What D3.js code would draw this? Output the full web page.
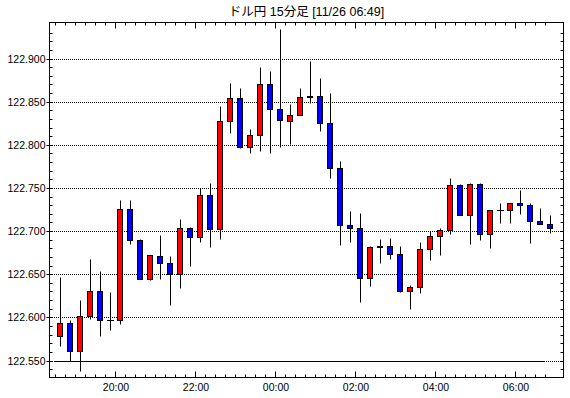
<!DOCTYPE html>
<html>
<head>
<meta charset="utf-8">
<script src="https://cdn.jsdelivr.net/npm/d3@7"></script>
<style>
  body { margin: 0; background: #fff; }
  svg text { font-family: "Liberation Sans", Arial, "Noto Sans CJK JP", sans-serif; fill: #000; }
</style>
</head>
<body>
<script>
// ドル円 15分足, 18:30 - 06:45
let times = ['18:30','18:45','19:00','19:15','19:30','19:45','20:00','20:15','20:30','20:45',
    '21:00','21:15','21:30','21:45','22:00','22:15','22:30','22:45','23:00','23:15',
    '23:30','23:45','00:00','00:15','00:30','00:45','01:00','01:15','01:30','01:45',
    '02:00','02:15','02:30','02:45','03:00','03:15','03:30','03:45','04:00','04:15',
    '04:30','04:45','05:00','05:15','05:30','05:45','06:00','06:15','06:30','06:45'];

let open = [122.578,122.594,122.561,122.601,122.630,122.597,122.597,122.726,122.690,122.645,
    122.671,122.663,122.650,122.703,122.693,122.742,122.702,122.827,122.854,122.798,
    122.811,122.871,122.842,122.827,122.834,122.855,122.857,122.825,122.773,122.707,
    122.704,122.646,122.681,122.683,122.674,122.631,122.635,122.679,122.694,122.701,
    122.753,122.719,122.755,122.697,122.724,122.724,122.733,122.730,122.712,122.708];
let high = [122.647,122.597,122.620,122.668,122.654,122.629,122.736,122.736,122.691,122.672,
    122.695,122.671,122.714,122.705,122.750,122.756,122.845,122.872,122.866,122.818,
    122.890,122.885,122.934,122.847,122.866,122.897,122.877,122.860,122.781,122.723,
    122.721,122.683,122.691,122.692,122.683,122.638,122.687,122.700,122.704,122.761,
    122.755,122.756,122.756,122.724,122.732,122.733,122.748,122.733,122.727,122.719];
let low = [122.567,122.549,122.538,122.598,122.578,122.585,122.592,122.685,122.644,122.643,
    122.645,122.614,122.634,122.660,122.687,122.681,122.691,122.814,122.796,122.791,
    122.793,122.791,122.798,122.801,122.834,122.849,122.816,122.761,122.684,122.687,
    122.618,122.636,122.663,122.668,122.629,122.610,122.628,122.667,122.672,122.697,
    122.719,122.685,122.690,122.680,122.709,122.709,122.720,122.686,122.708,122.698];
let close = [122.594,122.561,122.601,122.630,122.597,122.597,122.726,122.690,122.645,122.672,
    122.663,122.650,122.703,122.693,122.742,122.702,122.827,122.854,122.798,122.811,
    122.871,122.842,122.829,122.835,122.855,122.857,122.825,122.773,122.707,122.704,
    122.646,122.681,122.683,122.674,122.631,122.635,122.679,122.694,122.701,122.753,
    122.719,122.755,122.697,122.724,122.724,122.733,122.730,122.712,122.708,122.704];

let yTicks = [122.550,122.600,122.650,122.700,122.750,122.800,122.850,122.900];
let xLabels = ['20:00','22:00','00:00','02:00','04:00','06:00'];
let refLine = 122.550;
let title = 'ドル円 15分足 [11/26 06:49]';

let W = 570, H = 398;
let frame = {left: 49.5, top: 22.5, right: 563.5, bottom: 377.5};

let svg = d3.select('body').append('svg')
    .attr('width', W)
    .attr('height', H);

let x = d3.scaleBand()
    .domain(times)
    .range([55, 55 + 10 * times.length]);

let y = d3.scaleLinear()
    .domain([122.550, 122.900])
    .range([360.5, 58.5]);

let py = v => Math.round(y(v)) + 0.5;

// title
svg.append('text')
    .attr('x', (frame.left + frame.right) / 2)
    .attr('y', 16)
    .attr('text-anchor', 'middle')
    .style('font-size', '12.5px')
    .text(title);

// grid lines (dotted), start on a whole pixel so the dots stay crisp
svg.append('g').selectAll('line').data(yTicks).enter().append('line')
    .attr('x1', frame.left + 0.5).attr('x2', frame.right - 0.5)
    .attr('y1', d => py(d)).attr('y2', d => py(d))
    .attr('stroke', '#000')
    .attr('stroke-dasharray', '1,1')
    .attr('shape-rendering', 'crispEdges');

// reference line
svg.append('line')
    .attr('x1', x(times[0])).attr('x2', x(times[times.length - 1]))
    .attr('y1', py(refLine)).attr('y2', py(refLine))
    .attr('stroke', '#000');

// minor y ticks every 0.01 (left and right, inward)
let minor = d3.range(122.53, 122.95, 0.01).filter(v => y(v) > frame.top + 2 && y(v) < frame.bottom - 2);
let gm = svg.append('g').attr('stroke', '#000');
minor.forEach(v => {
    gm.append('line').attr('x1', frame.left).attr('x2', frame.left + 3).attr('y1', py(v)).attr('y2', py(v));
    gm.append('line').attr('x1', frame.right - 3).attr('x2', frame.right).attr('y1', py(v)).attr('y2', py(v));
});
// major y ticks outward + labels
yTicks.forEach(v => {
    gm.append('line').attr('x1', frame.left - 3).attr('x2', frame.left).attr('y1', py(v)).attr('y2', py(v));
    svg.append('text')
        .attr('x', frame.left - 4)
        .attr('y', py(v))
        .attr('dy', '0.35em')
        .attr('text-anchor', 'end')
        .style('font-size', '10.5px')
        .text(v.toFixed(3));
});

// x ticks top and bottom (inward)
times.forEach(t => {
    let xx = x(t) + 0.5;
    let len = xLabels.includes(t) ? 6 : 3;
    gm.append('line').attr('x1', xx).attr('x2', xx).attr('y1', frame.top).attr('y2', frame.top + len);
    gm.append('line').attr('x1', xx).attr('x2', xx).attr('y1', frame.bottom - len).attr('y2', frame.bottom);
});
xLabels.forEach(t => {
    svg.append('text')
        .attr('x', x(t) + 1)
        .attr('y', 391)
        .attr('text-anchor', 'middle')
        .style('font-size', '10.5px')
        .text(t);
});

// candles
let candles = times.map((t, i) => ({t, o: open[i], h: high[i], l: low[i], c: close[i]}));
let gc = svg.append('g');
candles.forEach(d => {
    let cx = x(d.t) + x.bandwidth() / 2;
    gc.append('line')
        .attr('x1', cx + 0.5).attr('x2', cx + 0.5)
        .attr('y1', py(d.h)).attr('y2', py(d.l))
        .attr('stroke', '#000');
    if (d.o === d.c) {
        gc.append('line')
            .attr('x1', cx - 3).attr('x2', cx + 4)
            .attr('y1', py(d.o)).attr('y2', py(d.o))
            .attr('stroke', '#000');
    } else {
        let top = py(Math.max(d.o, d.c)), bot = py(Math.min(d.o, d.c));
        gc.append('rect')
            .attr('x', cx - 2.5)
            .attr('y', top)
            .attr('width', 5)
            .attr('height', Math.max(bot - top, 1))
            .attr('fill', d.c > d.o ? '#ff0000' : '#0000ff')
            .attr('stroke', '#000');
    }
});

// frame
svg.append('rect')
    .attr('x', frame.left).attr('y', frame.top)
    .attr('width', frame.right - frame.left)
    .attr('height', frame.bottom - frame.top)
    .attr('fill', 'none')
    .attr('stroke', '#000');
</script>
</body>
</html>
